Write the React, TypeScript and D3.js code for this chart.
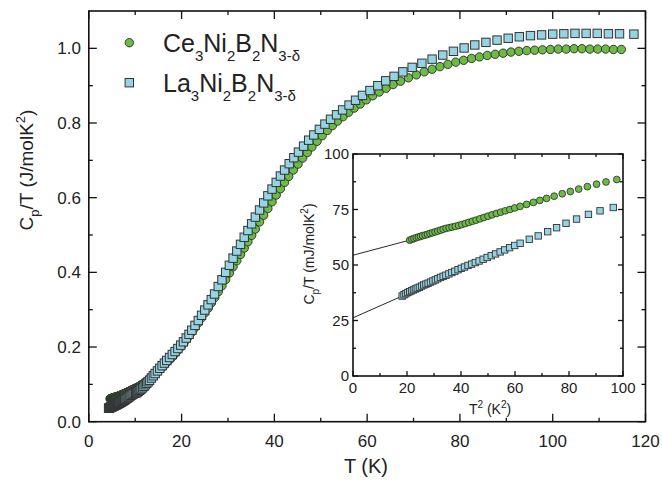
import React from "react";
import * as d3 from "d3";

// inset data: T^2 (K^2) and Cp/T (mJ/molK^2)
const ceInsetT2 = [21.0, 21.8, 22.6, 23.4, 24.2, 25.0, 25.8, 26.7, 27.6, 28.5, 29.4, 30.4, 31.4, 32.4, 33.4, 34.5, 35.6, 36.7, 37.9, 39.1, 40.3, 41.6, 42.9, 44.2, 45.6, 47.0, 48.5, 50.0, 51.5, 53.1, 54.7, 56.4, 58.1, 59.9, 61.9, 64.3, 66.8, 69.2, 71.7, 74.5, 77.5, 80.5, 83.6, 86.8, 90.2, 93.7, 97.7];
const ceInsetCp = [61.2, 61.6, 61.9, 62.3, 62.6, 62.9, 63.2, 63.5, 63.8, 64.2, 64.5, 64.9, 65.3, 65.7, 66.1, 66.5, 66.8, 67.1, 67.4, 67.8, 68.2, 68.7, 69.2, 69.7, 70.2, 70.8, 71.4, 72.0, 72.6, 73.2, 73.8, 74.4, 75.0, 75.7, 76.4, 77.3, 78.2, 79.1, 80.0, 81.0, 82.1, 83.1, 84.2, 85.3, 86.4, 87.4, 88.5];
const laInsetT2 = [18.2, 18.9, 19.6, 20.3, 21.0, 21.7, 22.4, 23.1, 23.8, 24.6, 25.4, 26.2, 27.0, 27.8, 28.7, 29.6, 30.5, 31.4, 32.4, 33.4, 34.4, 35.5, 36.6, 37.7, 38.9, 40.1, 41.3, 42.6, 43.9, 45.3, 46.7, 48.2, 49.7, 51.2, 52.8, 54.5, 56.2, 58.0, 59.9, 61.9, 65.3, 68.6, 72.1, 75.4, 78.9, 82.8, 87.2, 91.5, 96.4];
const laInsetCp = [36.0, 36.6, 37.1, 37.6, 38.0, 38.4, 38.8, 39.2, 39.6, 40.0, 40.5, 41.0, 41.4, 41.8, 42.3, 42.8, 43.3, 43.8, 44.4, 44.9, 45.4, 46.0, 46.6, 47.2, 47.9, 48.5, 49.1, 49.8, 50.4, 51.1, 51.8, 52.6, 53.4, 54.2, 55.0, 55.9, 56.8, 57.8, 58.8, 59.8, 61.6, 63.1, 65.0, 66.8, 68.8, 70.7, 72.8, 74.4, 75.9];
const ceFitIntercept = 54.4;
const laFitIntercept = 26.2;

// main data above 10 K: T (K) and Cp/T (J/molK^2)
const ceMainT = [10.1, 10.3, 10.5, 10.7, 10.9, 11.1, 11.3, 11.6, 11.9, 12.2, 12.5, 12.8, 13.1, 13.5, 13.9, 14.3, 14.7, 15.1, 15.6, 16.1, 16.6, 17.1, 17.6, 18.1, 18.7, 19.3, 19.9, 20.5, 21.1, 21.7, 22.3, 22.9, 23.6, 24.3, 25.0, 25.7, 26.4, 27.1, 27.9, 28.7, 29.5, 30.3, 31.1, 31.9, 32.7, 33.5, 34.3, 35.1, 35.9, 36.8, 37.7, 38.6, 39.5, 40.4, 41.3, 42.2, 43.1, 44.1, 45.1, 46.1, 47.1, 48.1, 49.2, 50.3, 51.4, 52.5, 53.6, 54.8, 56.0, 57.2, 58.5, 59.8, 61.2, 62.6, 64.1, 65.6, 67.2, 68.9, 70.6, 72.3, 74.0, 75.7, 77.4, 79.1, 80.8, 82.5, 84.2, 85.9, 87.6, 89.3, 91.0, 92.7, 94.4, 96.1, 97.8, 99.5, 101.2, 102.9, 104.6, 106.3, 108.0, 109.7, 111.4, 113.1, 114.8];
const ceMainCp = [0.090, 0.091, 0.092, 0.094, 0.095, 0.097, 0.098, 0.101, 0.103, 0.106, 0.109, 0.112, 0.115, 0.119, 0.123, 0.128, 0.132, 0.137, 0.143, 0.149, 0.156, 0.162, 0.169, 0.175, 0.184, 0.193, 0.201, 0.211, 0.221, 0.231, 0.241, 0.252, 0.265, 0.278, 0.291, 0.304, 0.318, 0.332, 0.348, 0.364, 0.381, 0.398, 0.415, 0.431, 0.448, 0.465, 0.482, 0.499, 0.516, 0.535, 0.553, 0.571, 0.589, 0.607, 0.624, 0.641, 0.657, 0.674, 0.690, 0.706, 0.721, 0.736, 0.751, 0.766, 0.780, 0.793, 0.805, 0.817, 0.829, 0.840, 0.851, 0.862, 0.873, 0.883, 0.893, 0.903, 0.912, 0.921, 0.929, 0.937, 0.944, 0.951, 0.957, 0.963, 0.968, 0.973, 0.977, 0.981, 0.984, 0.987, 0.990, 0.992, 0.994, 0.995, 0.996, 0.997, 0.998, 0.998, 0.999, 0.999, 0.998, 0.998, 0.998, 0.997, 0.997];
const laMainT = [10.1, 10.3, 10.5, 10.7, 10.9, 11.1, 11.3, 11.6, 11.9, 12.2, 12.5, 12.8, 13.1, 13.5, 13.9, 14.3, 14.8, 15.3, 15.8, 16.3, 16.8, 17.4, 18.0, 18.6, 19.2, 19.8, 20.4, 21.0, 21.6, 22.2, 22.9, 23.6, 24.3, 25.0, 25.7, 26.4, 27.1, 27.9, 28.7, 29.5, 30.3, 31.1, 31.9, 32.7, 33.5, 34.3, 35.1, 35.9, 36.8, 37.7, 38.6, 39.5, 40.4, 41.3, 42.2, 43.2, 44.2, 45.2, 46.3, 47.4, 48.5, 49.7, 50.9, 52.1, 53.4, 54.7, 56.1, 57.5, 59.0, 60.6, 62.3, 64.0, 65.8, 67.7, 69.7, 71.8, 74.0, 76.3, 78.6, 80.9, 83.2, 85.6, 88.0, 90.4, 92.8, 95.2, 97.6, 100.0, 102.4, 104.8, 107.2, 109.6, 112.0, 114.4, 117.5];
const laMainCp = [0.077, 0.078, 0.080, 0.082, 0.084, 0.086, 0.088, 0.091, 0.095, 0.099, 0.103, 0.107, 0.111, 0.117, 0.123, 0.129, 0.136, 0.143, 0.150, 0.157, 0.164, 0.172, 0.180, 0.188, 0.196, 0.205, 0.214, 0.224, 0.234, 0.245, 0.258, 0.271, 0.285, 0.299, 0.313, 0.327, 0.342, 0.362, 0.380, 0.400, 0.419, 0.438, 0.457, 0.475, 0.494, 0.512, 0.530, 0.548, 0.567, 0.586, 0.605, 0.623, 0.641, 0.658, 0.674, 0.691, 0.707, 0.722, 0.738, 0.754, 0.768, 0.783, 0.797, 0.810, 0.822, 0.835, 0.848, 0.861, 0.874, 0.887, 0.900, 0.913, 0.925, 0.937, 0.949, 0.960, 0.971, 0.982, 0.992, 1.001, 1.009, 1.016, 1.022, 1.027, 1.031, 1.034, 1.036, 1.038, 1.039, 1.040, 1.040, 1.040, 1.039, 1.039, 1.038];

const mainXTicks = [0, 20, 40, 60, 80, 100, 120];
const mainXMinor = [10, 30, 50, 70, 90, 110];
const mainYTicks = [0, 0.2, 0.4, 0.6, 0.8, 1.0];
const mainYMinor = [0.1, 0.3, 0.5, 0.7, 0.9];
const insetXTicks = [0, 20, 40, 60, 80, 100];
const insetXMinor = [10, 30, 50, 70, 90];
const insetYTicks = [0, 25, 50, 75, 100];
const insetYMinor = [12.5, 37.5, 62.5, 87.5];

const GREEN = "#6cbb45";
const BLUE = "#96d4e4";
const FONT = "'Liberation Sans', Arial, sans-serif";

function Frame({ x, y, xt, xm, yt, ym, big, small }) {
  const [x0, x1] = x.range();
  const [y0, y1] = y.range();
  return (
    <g stroke="#111" strokeWidth={1.3}>
      <rect x={x0} y={y1} width={x1 - x0} height={y0 - y1} fill="none" strokeWidth={1.6} />
      {xt.map((t) => (
        <g key={"x" + t}>
          <line x1={x(t)} x2={x(t)} y1={y0} y2={y0 - big} />
          <line x1={x(t)} x2={x(t)} y1={y1} y2={y1 + big} />
        </g>
      ))}
      {xm.map((t) => (
        <g key={"xm" + t}>
          <line x1={x(t)} x2={x(t)} y1={y0} y2={y0 - small} />
          <line x1={x(t)} x2={x(t)} y1={y1} y2={y1 + small} />
        </g>
      ))}
      {yt.map((t) => (
        <g key={"y" + t}>
          <line x1={x0} x2={x0 + big} y1={y(t)} y2={y(t)} />
          <line x1={x1} x2={x1 - big} y1={y(t)} y2={y(t)} />
        </g>
      ))}
      {ym.map((t) => (
        <g key={"ym" + t}>
          <line x1={x0} x2={x0 + small} y1={y(t)} y2={y(t)} />
          <line x1={x1} x2={x1 - small} y1={y(t)} y2={y(t)} />
        </g>
      ))}
    </g>
  );
}

export default function App() {
  const mx = d3.scaleLinear().domain([0, 120]).range([88.8, 645.5]);
  const my = d3.scaleLinear().domain([0, 1.1]).range([421.7, 11]);
  const ix = d3.scaleLinear().domain([0, 100]).range([353, 623]);
  const iy = d3.scaleLinear().domain([0, 100]).range([376, 154]);

  // low temperature part of main curves comes from the inset data
  const cePts = ceInsetT2.map((t2, i) => [Math.sqrt(t2), ceInsetCp[i] / 1000]).concat(ceMainT.map((t, i) => [t, ceMainCp[i]]));
  const laPts = laInsetT2.map((t2, i) => [Math.sqrt(t2), laInsetCp[i] / 1000]).concat(laMainT.map((t, i) => [t, laMainCp[i]]));

  const fmt = d3.format(".1f");
  const sub = 15;

  return (
    <svg width={662} height={481} style={{ position: "absolute", left: 0, top: 0, background: "#fff" }} fontFamily={FONT}>
      {/* main data */}
      {cePts.map((d, i) => (
        <circle key={"c" + i} cx={mx(d[0])} cy={my(d[1])} r={4.2} fill={GREEN} stroke="#2b2b2b" strokeWidth={0.9} />
      ))}
      {laPts.map((d, i) => (
        <rect key={"l" + i} x={mx(d[0]) - 4.2} y={my(d[1]) - 4.2} width={8.4} height={8.4} fill={BLUE} stroke="#333" strokeWidth={1} />
      ))}
      <Frame x={mx} y={my} xt={mainXTicks} xm={mainXMinor} yt={mainYTicks} ym={mainYMinor} big={8} small={4} />
      {mainXTicks.map((t) => (
        <text key={t} x={mx(t)} y={447} textAnchor="middle" fontSize={17} fill="#222">{t}</text>
      ))}
      {mainYTicks.map((t) => (
        <text key={t} x={81} y={my(t) + 6} textAnchor="end" fontSize={17} fill="#222">{fmt(t)}</text>
      ))}
      <text x={366} y={473} textAnchor="middle" fontSize={20} fill="#222">T (K)</text>
      <text transform="translate(33,170) rotate(-90)" textAnchor="middle" fontSize={19} fill="#222">
        C<tspan dy={6} fontSize={13}>p</tspan><tspan dy={-6}>/T (J/molK</tspan><tspan dy={-8} fontSize={13}>2</tspan><tspan dy={8}>)</tspan>
      </text>

      {/* legend */}
      <circle cx={129.3} cy={42.7} r={4.2} fill={GREEN} stroke="#2b2b2b" strokeWidth={0.9} />
      <rect x={125.1} y={78.5} width={8.4} height={8.4} fill={BLUE} stroke="#333" strokeWidth={1} />
      <text x={163} y={52} fontSize={25} fill="#222">
        Ce<tspan dy={9} fontSize={sub}>3</tspan><tspan dy={-9}>Ni</tspan><tspan dy={9} fontSize={sub}>2</tspan><tspan dy={-9}>B</tspan><tspan dy={9} fontSize={sub}>2</tspan><tspan dy={-9}>N</tspan><tspan dy={9} fontSize={sub}>3-δ</tspan>
      </text>
      <text x={163} y={92} fontSize={25} fill="#222">
        La<tspan dy={9} fontSize={sub}>3</tspan><tspan dy={-9}>Ni</tspan><tspan dy={9} fontSize={sub}>2</tspan><tspan dy={-9}>B</tspan><tspan dy={9} fontSize={sub}>2</tspan><tspan dy={-9}>N</tspan><tspan dy={9} fontSize={sub}>3-δ</tspan>
      </text>

      {/* inset */}
      <rect x={ix(0)} y={iy(100)} width={ix(100) - ix(0)} height={iy(0) - iy(100)} fill="#fff" />
      <line x1={ix(0)} y1={iy(ceFitIntercept)} x2={ix(ceInsetT2[0])} y2={iy(ceInsetCp[0])} stroke="#111" strokeWidth={0.9} />
      <line x1={ix(0)} y1={iy(laFitIntercept)} x2={ix(laInsetT2[0])} y2={iy(laInsetCp[0])} stroke="#111" strokeWidth={0.9} />
      {ceInsetT2.map((t, i) => (
        <circle key={"ic" + i} cx={ix(t)} cy={iy(ceInsetCp[i])} r={3.4} fill={GREEN} stroke="#2b2b2b" strokeWidth={0.8} />
      ))}
      {laInsetT2.map((t, i) => (
        <rect key={"il" + i} x={ix(t) - 3.2} y={iy(laInsetCp[i]) - 3.2} width={6.4} height={6.4} fill={BLUE} stroke="#333" strokeWidth={0.9} />
      ))}
      <Frame x={ix} y={iy} xt={insetXTicks} xm={insetXMinor} yt={insetYTicks} ym={insetYMinor} big={5} small={3} />
      {insetXTicks.map((t) => (
        <text key={t} x={ix(t)} y={393} textAnchor="middle" fontSize={15} fill="#222">{t}</text>
      ))}
      {insetYTicks.map((t) => (
        <text key={t} x={349} y={iy(t) + 5} textAnchor="end" fontSize={15} fill="#222">{t}</text>
      ))}
      <text x={490} y={414} textAnchor="middle" fontSize={14} fill="#222">
        T<tspan dy={-6} fontSize={10}>2</tspan><tspan dy={6}> (K</tspan><tspan dy={-6} fontSize={10}>2</tspan><tspan dy={6}>)</tspan>
      </text>
      <text transform="translate(314,254) rotate(-90)" textAnchor="middle" fontSize={14} fill="#222">
        C<tspan dy={5} fontSize={10}>p</tspan><tspan dy={-5}>/T (mJ/molK</tspan><tspan dy={-6} fontSize={10}>2</tspan><tspan dy={6}>)</tspan>
      </text>
    </svg>
  );
}
